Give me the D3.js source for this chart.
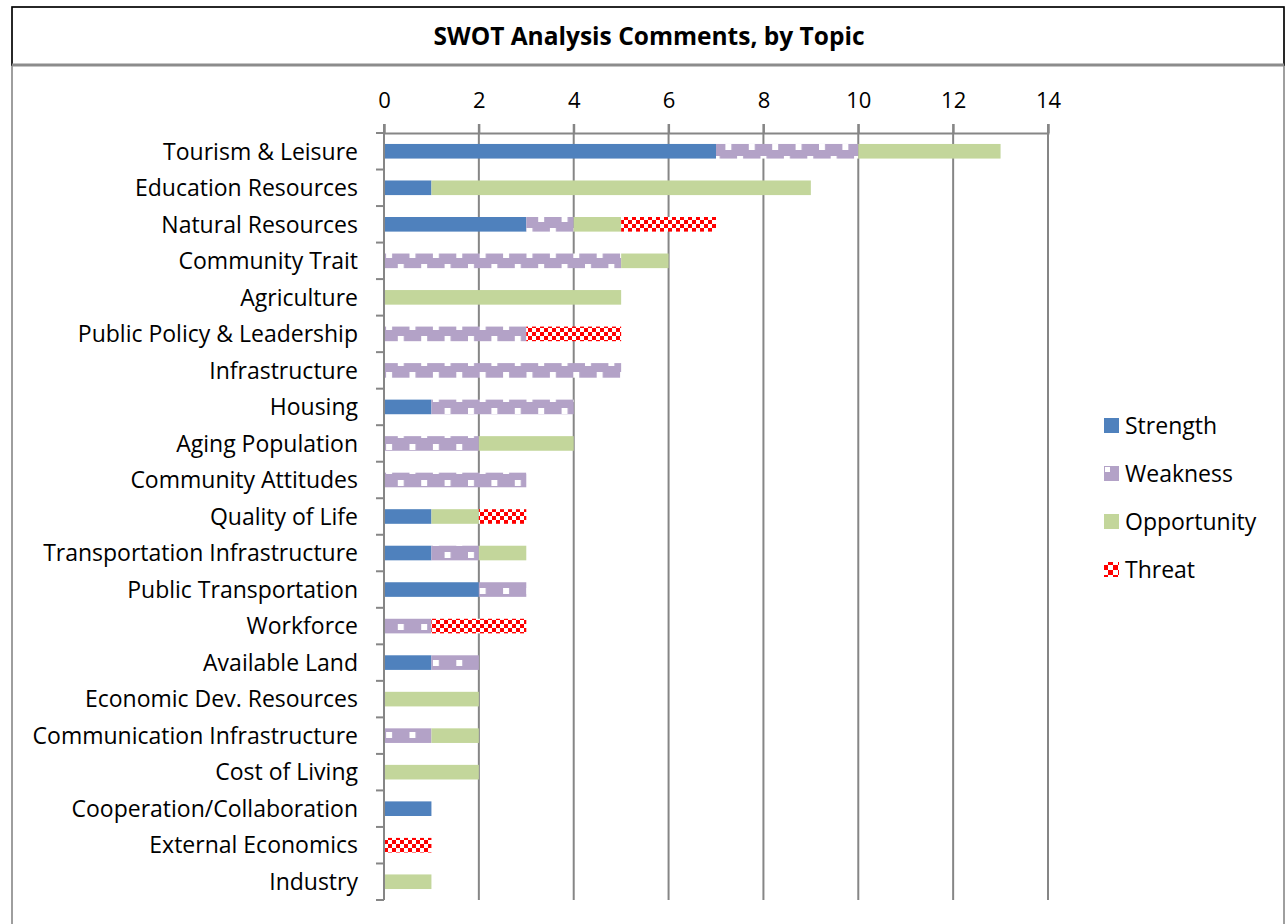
<!doctype html>
<html>
<head>
  <script src="https://cdnjs.cloudflare.com/ajax/libs/d3/7.8.5/d3.min.js"></script>
  <style>
    body { margin: 0; background: #fff; }
    text { font-family: "Open Sans", sans-serif; fill: #000; }
  </style>
</head>
<body>
<svg width="1286" height="924"></svg>
<script>
var categories = ["Tourism & Leisure", "Education Resources", "Natural Resources", "Community Trait",
  "Agriculture", "Public Policy & Leadership", "Infrastructure", "Housing", "Aging Population",
  "Community Attitudes", "Quality of Life", "Transportation Infrastructure", "Public Transportation",
  "Workforce", "Available Land", "Economic Dev. Resources", "Communication Infrastructure",
  "Cost of Living", "Cooperation/Collaboration", "External Economics", "Industry"];
var strength    = [7,1,3,0,0,0,0,1,0,0,1,1,2,0,1,0,0,0,1,0,0];
var weakness    = [3,0,1,5,0,3,5,3,2,3,0,1,1,1,1,0,1,0,0,0,0];
var opportunity = [3,8,1,1,5,0,0,0,2,0,1,1,0,0,0,2,1,2,0,0,1];
var threat      = [0,0,2,0,0,2,0,0,0,0,1,0,0,2,0,0,0,0,0,1,0];
var seriesNames = ["Strength", "Weakness", "Opportunity", "Threat"];
var xTicks = [0,2,4,6,8,10,12,14];

var svg = d3.select("svg");

// patterns
var defs = svg.append("defs");
var pw = defs.append("pattern").attr("id", "weak").attr("patternUnits", "userSpaceOnUse")
  .attr("width", 23.4).attr("height", 24);
pw.append("rect").attr("width", 23.4).attr("height", 24).attr("fill", "#b3a2c7");
pw.append("rect").attr("x", 0).attr("y", 0).attr("width", 6).attr("height", 6).attr("fill", "#fff");
pw.append("rect").attr("x", 11.7).attr("y", 12).attr("width", 6).attr("height", 6).attr("fill", "#fff");

var pt = defs.append("pattern").attr("id", "threat").attr("patternUnits", "userSpaceOnUse")
  .attr("width", 8).attr("height", 8);
pt.append("rect").attr("width", 8).attr("height", 8).attr("fill", "#fff");
pt.append("rect").attr("width", 4).attr("height", 4).attr("fill", "#ff0000");
pt.append("rect").attr("x", 4).attr("y", 4).attr("width", 4).attr("height", 4).attr("fill", "#ff0000");

var ptl = defs.append("pattern").attr("id", "threatL").attr("patternUnits", "userSpaceOnUse")
  .attr("x", 1104).attr("y", 418).attr("width", 10).attr("height", 10);
ptl.append("rect").attr("width", 10).attr("height", 10).attr("fill", "#fff");
ptl.append("rect").attr("width", 5).attr("height", 5).attr("fill", "#ff0000");
ptl.append("rect").attr("x", 5).attr("y", 5).attr("width", 5).attr("height", 5).attr("fill", "#ff0000");

var fills = ["#4f81bd", "url(#weak)", "#c3d69b", "url(#threat)"];
var legendFills = ["#4f81bd", "#b3a2c7", "#c3d69b", "url(#threatL)"];

// frame
svg.append("rect").attr("x", 12).attr("y", 7).attr("width", 1272).attr("height", 930)
  .attr("fill", "none").attr("stroke", "#7f7f7f").attr("stroke-width", 1.5);
svg.append("rect").attr("x", 12).attr("y", 7).attr("width", 1272).attr("height", 58)
  .attr("fill", "none").attr("stroke", "#000").attr("stroke-width", 1.5);
svg.append("line").attr("x1", 12).attr("x2", 1284).attr("y1", 65).attr("y2", 65)
  .attr("stroke", "#8c8c8c").attr("stroke-width", 3);

svg.append("text").attr("x", 649).attr("y", 45).attr("text-anchor", "middle")
  .style("font-weight", "bold").style("font-size", "24.5px")
  .text("SWOT Analysis Comments, by Topic");

var x = d3.scaleLinear().domain([0, 14]).range([384, 1048]);
var y = d3.scaleBand().domain(categories).range([133, 900]).paddingInner(0.6).paddingOuter(0.3);

// gridlines
svg.append("g").selectAll("line").data(xTicks.slice(1)).join("line")
  .attr("x1", d => x(d)).attr("x2", d => x(d)).attr("y1", 124).attr("y2", 900)
  .attr("stroke", "#868686").attr("stroke-width", 2);

// top axis
var xAxis = svg.append("g").attr("transform", "translate(0,133)")
  .call(d3.axisTop(x).tickValues(xTicks).tickSize(9).tickPadding(16));
xAxis.select(".domain").attr("stroke", "#868686").attr("stroke-width", 2);
xAxis.selectAll(".tick line").attr("stroke", "#868686").attr("stroke-width", 2);
xAxis.selectAll(".tick text").style("font-family", "Open Sans").style("font-size", "22px").attr("fill", "#000");

// stacked bars
var rows = categories.map((c, i) => ({cat: c, Strength: strength[i], Weakness: weakness[i],
  Opportunity: opportunity[i], Threat: threat[i]}));
var stack = d3.stack().keys(seriesNames)(rows);

svg.append("g").selectAll("g").data(stack).join("g")
  .attr("fill", (d, i) => fills[i])
  .selectAll("rect").data(d => d.filter(p => p[1] > p[0])).join("rect")
  .attr("x", d => x(d[0])).attr("width", d => x(d[1]) - x(d[0]))
  .attr("y", d => y(d.data.cat)).attr("height", y.bandwidth());

// left axis
var yb = d3.scaleLinear().domain([0, categories.length]).range([133, 900]);
var yAxis = svg.append("g").attr("transform", "translate(384,0)");
yAxis.append("line").attr("x1", 0).attr("x2", 0).attr("y1", 124).attr("y2", 900)
  .attr("stroke", "#868686").attr("stroke-width", 2);
yAxis.selectAll(".tk").data(d3.range(categories.length + 1)).join("line").attr("class", "tk")
  .attr("x1", -8).attr("x2", 0).attr("y1", d => yb(d)).attr("y2", d => yb(d))
  .attr("stroke", "#868686").attr("stroke-width", 2);
yAxis.selectAll("text").data(categories).join("text")
  .attr("x", -26).attr("y", d => y(d) + y.bandwidth() / 2).attr("dy", "0.36em")
  .attr("text-anchor", "end").style("font-size", "23px").text(d => d);

// legend
var lg = svg.append("g").attr("transform", "translate(1104,418)");
var items = lg.selectAll("g").data(seriesNames).join("g")
  .attr("transform", (d, i) => "translate(0," + i * 48 + ")");
items.append("rect").attr("width", 15).attr("height", 15).attr("fill", (d, i) => legendFills[i]);
items.filter(d => d === "Weakness").append("rect").attr("x", 1).attr("y", 1).attr("width", 5).attr("height", 5).attr("fill", "#fff");
items.append("text").attr("x", 21).attr("y", 7.5).attr("dy", "0.36em").style("font-size", "23px").text(d => d);
</script>
</body>
</html>
